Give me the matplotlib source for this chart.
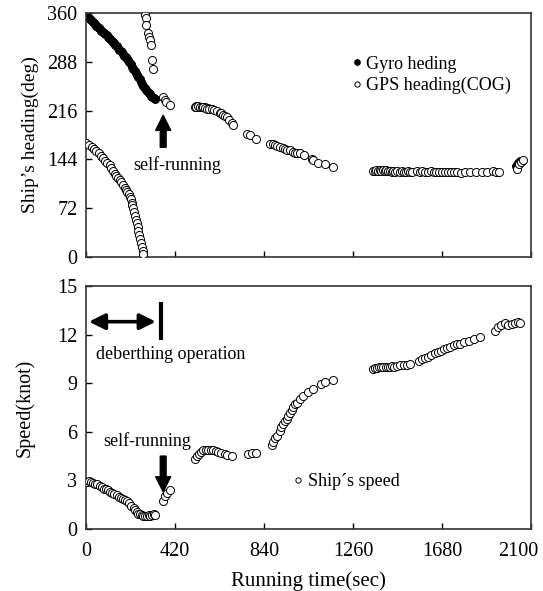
import matplotlib
matplotlib.use("Agg")
import matplotlib.pyplot as plt
from matplotlib.lines import Line2D
import matplotlib.transforms as mtransforms

plt.rcParams['font.family'] = ['Liberation Serif', 'DejaVu Serif']
plt.rcParams['font.size'] = 14

# ---------------- data: heading panel ----------------
gyro_t = [3, 8, 14, 20, 26, 32, 38, 44, 50, 56, 62, 68, 74, 80, 86, 92, 98, 104, 110, 116,
          122, 128, 134, 140, 146, 152, 158, 164, 170, 176, 182, 188, 194, 200, 206, 212, 218,
          224, 230, 236, 242, 248, 254, 260, 266, 272, 278, 284, 290, 296, 302, 308, 314, 320, 326,
          518, 526, 534, 560, 575, 1360, 1400, 1440, 2030, 2040, 2050, 2058]
gyro_h = [357, 355, 353, 351, 349, 347, 345, 343, 341, 339, 338, 336, 334, 332, 331, 329, 327, 325, 323, 321,
          319, 317, 315, 313, 311, 309, 306, 304, 302, 299, 297, 295, 292, 290, 287, 284, 281,
          278, 275, 271, 268, 265, 262, 258, 255, 252, 249, 247, 245, 242, 240, 238, 236, 234, 233,
          223, 223, 222, 221, 220, 127, 127, 127, 134, 138, 141, 142]

gps_t = [3, 15, 27, 38, 50, 60, 72, 82, 92, 102, 112, 120, 128, 136, 144, 152, 160, 168, 176, 184,
         190, 196, 202, 208, 212, 216, 220, 224, 228, 232, 236, 240, 244, 248, 252, 256, 260, 264, 268, 272,
         278, 282, 286, 294, 297, 302, 307, 310, 318,
         365, 372, 380, 396,
         514, 522, 530, 538, 546, 554, 562, 570, 581, 593, 605, 617, 632, 640, 648, 656, 664, 676, 688, 695,
         758, 774, 805,
         868, 884, 892, 900, 915, 931, 939, 947, 963, 978, 986, 994, 1010, 1029, 1065, 1073, 1096, 1128, 1167,
         1354, 1362, 1370, 1378, 1386, 1394, 1402, 1410, 1418, 1426, 1434, 1442, 1450, 1460, 1470, 1480,
         1490, 1500, 1510, 1520, 1530, 1538,
         1562, 1574, 1586, 1598, 1612, 1626, 1640, 1654, 1668, 1682, 1696, 1710, 1724, 1738, 1752, 1770,
         1790, 1810, 1840, 1870, 1892,
         1921, 1935, 1950, 2035, 2045, 2052, 2062]
gps_h = [168, 165, 162, 159, 156, 153, 149, 146, 142, 139, 135, 131, 127, 123, 119, 116, 113, 110, 106, 102,
         99, 96, 93, 89, 85, 80, 76, 72, 66, 60, 55, 50, 45, 39, 33, 27, 21, 15, 9, 4,
         357, 352, 342, 330, 325, 320, 313, 291, 278,
         236, 232, 229, 224,
         222, 222, 223, 221, 221, 221, 220, 219, 218, 218, 217, 216, 213, 212, 210, 208, 207, 202, 197, 195,
         182, 180, 174,
         167, 166, 165, 164, 163, 161, 160, 158, 158, 155, 154, 153, 153, 150, 144, 143, 138, 137, 133,
         127, 127, 128, 127, 128, 127, 128, 127, 128, 127, 127, 126, 127, 126, 127, 126,
         127, 126, 126, 127, 126, 126,
         127, 126, 127, 126, 126, 127, 126, 125, 126, 126, 125, 126, 126, 125, 126, 124,
         126, 126, 126, 126, 126,
         127, 125, 126, 130, 137, 140, 143]

# ---------------- data: speed panel ----------------
spd_t = [5, 15, 25, 35, 45, 55, 65, 75, 85, 95, 105, 115, 125, 135, 145, 155, 165, 175, 185, 195,
         205, 215, 225, 232, 240, 248, 256, 264, 272, 280, 288, 296, 304, 312, 320, 326,
         365, 375, 385, 398,
         514, 525, 535, 545, 555, 565, 575, 590, 600, 612, 625, 640, 655, 668, 690,
         766, 782, 805,
         876, 884, 892, 900, 915, 923, 931, 940, 947, 955, 963, 971, 979, 987, 994, 1010, 1026, 1050,
         1073, 1110, 1128, 1167,
         1354, 1364, 1374, 1384, 1394, 1404, 1414, 1424, 1434, 1444, 1454, 1470, 1484, 1500, 1515, 1529,
         1570, 1584, 1600, 1615, 1630, 1645, 1660, 1675, 1690, 1705, 1720, 1735, 1750, 1765, 1785, 1805,
         1830, 1860,
         1930, 1945, 1960, 1975, 1990, 2010, 2025, 2040, 2050]
spd_v = [2.9, 2.95, 2.9, 2.85, 2.8, 2.75, 2.65, 2.6, 2.5, 2.45, 2.4, 2.3, 2.25, 2.15, 2.1, 2.0, 1.9, 1.85, 1.8, 1.7,
         1.6, 1.45, 1.3, 1.15, 1.05, 0.95, 0.9, 0.85, 0.8, 0.8, 0.8, 0.85, 0.8, 0.85, 0.9, 0.85,
         1.75, 2.05, 2.25, 2.4,
         4.35, 4.5, 4.6, 4.75, 4.85, 4.9, 4.9, 4.9, 4.85, 4.8, 4.75, 4.7, 4.6, 4.55, 4.5,
         4.6, 4.7, 4.7,
         5.2, 5.35, 5.6, 5.75, 6.05, 6.3, 6.5, 6.65, 6.8, 7.0, 7.15, 7.35, 7.55, 7.7, 7.8, 8.05, 8.2, 8.45,
         8.65, 8.95, 9.05, 9.2,
         9.9, 9.95, 9.95, 10.0, 10.0, 10.0, 10.0, 10.0, 10.0, 10.05, 10.0, 10.05, 10.1, 10.1, 10.15, 10.2,
         10.4, 10.5, 10.55, 10.65, 10.75, 10.85, 10.95, 11.0, 11.1, 11.2, 11.25, 11.35, 11.4, 11.45, 11.55, 11.6,
         11.75, 11.85,
         12.25, 12.45, 12.6, 12.7, 12.6, 12.65, 12.7, 12.75, 12.7]

x_ticks = [0, 420, 840, 1260, 1680, 2100]
head_ticks = [0, 72, 144, 216, 288, 360]
spd_ticks = [0, 3, 6, 9, 12, 15]

# ---------------- figure ----------------
fig = plt.figure(figsize=(5.43, 5.91), dpi=100)
ax1 = fig.add_axes([0.158, 0.5651, 0.820, 0.413])
ax2 = fig.add_axes([0.158, 0.1049, 0.820, 0.4111])

ms = 5.8
ax1.plot(gyro_t, gyro_h, 'o', ms=ms, mfc='black', mec='black', mew=0.6, zorder=2)
ax1.plot(gps_t, gps_h, 'o', ms=ms, mfc='white', mec='black', mew=0.7, zorder=3)
ax2.plot(spd_t, spd_v, 'o', ms=ms, mfc='white', mec='black', mew=0.7, zorder=3)

for ax in (ax1, ax2):
    ax.set_xlim(0, 2100)
    ax.set_xticks(x_ticks)
    ax.tick_params(direction='in', length=4, width=1, pad=6, colors='black', labelsize=14.5)
    ax.tick_params(axis='x', pad=9)
    for s in ax.spines.values():
        s.set_linewidth(1.2)
        s.set_color('#333333')

ax1.set_ylim(0, 360)
ax1.set_yticks(head_ticks)
ax1.set_xticklabels([])
ax2.set_ylim(0, 15)
ax2.set_yticks(spd_ticks)
ax2.set_xticklabels([str(v) for v in x_ticks])
lbls = ax2.get_xticklabels()
off = mtransforms.ScaledTranslation(-13 / 100, 0, fig.dpi_scale_trans)
lbls[-1].set_transform(lbls[-1].get_transform() + off)

ax1.set_ylabel('Ship’s heading(deg)', labelpad=6, fontsize=14)
ax2.set_ylabel('Speed(knot)', labelpad=16, fontsize=14.5)
ax2.set_xlabel('Running time(sec)', labelpad=8, fontsize=15)

# legends
h_gyro = Line2D([], [], ls='none', marker='o', ms=3.8, mfc='black', mec='black')
h_gps = Line2D([], [], ls='none', marker='o', ms=3.8, mfc='white', mec='black', mew=0.7)
ax1.legend([h_gyro, h_gps], ['Gyro heding', 'GPS heading(COG)'], loc='upper left',
           bbox_to_anchor=(0.6, 0.825), frameon=False, handlelength=0.5, handletextpad=0.25,
           labelspacing=0.25, borderpad=0, borderaxespad=0, fontsize=13)
h_spd = Line2D([], [], ls='none', marker='o', ms=3.8, mfc='white', mec='black', mew=0.7)
ax2.legend([h_spd], ['Ship´s speed'], loc='center left', bbox_to_anchor=(0.467, 0.195),
           frameon=False, handlelength=0.5, handletextpad=0.3, borderpad=0, borderaxespad=0,
           fontsize=13)

# annotations
arr = dict(arrowstyle='simple,head_length=0.9,head_width=0.9,tail_width=0.35',
           fc='black', ec='black', mutation_scale=12, shrinkA=0, shrinkB=0)
ax1.annotate('', xy=(365, 209), xytext=(365, 162), arrowprops=arr)
ax1.text(430, 136, 'self-running', ha='center', va='center', fontsize=13)

ax2.annotate('', xy=(365, 2.3), xytext=(365, 4.5), arrowprops=arr)
ax2.text(290, 5.4, 'self-running', ha='center', va='center', fontsize=13)

ax2.annotate('', xy=(15, 12.8), xytext=(330, 12.8),
             arrowprops=dict(arrowstyle='<|-|>,head_length=0.8,head_width=0.4', lw=2.6,
                             color='black', mutation_scale=12, shrinkA=0, shrinkB=0))
ax2.plot([354, 354], [11.67, 14.03], color='black', lw=3, solid_capstyle='butt')
ax2.text(50, 10.75, 'deberthing operation', ha='left', va='center', fontsize=13)

fig.savefig('out.png', dpi=100)
